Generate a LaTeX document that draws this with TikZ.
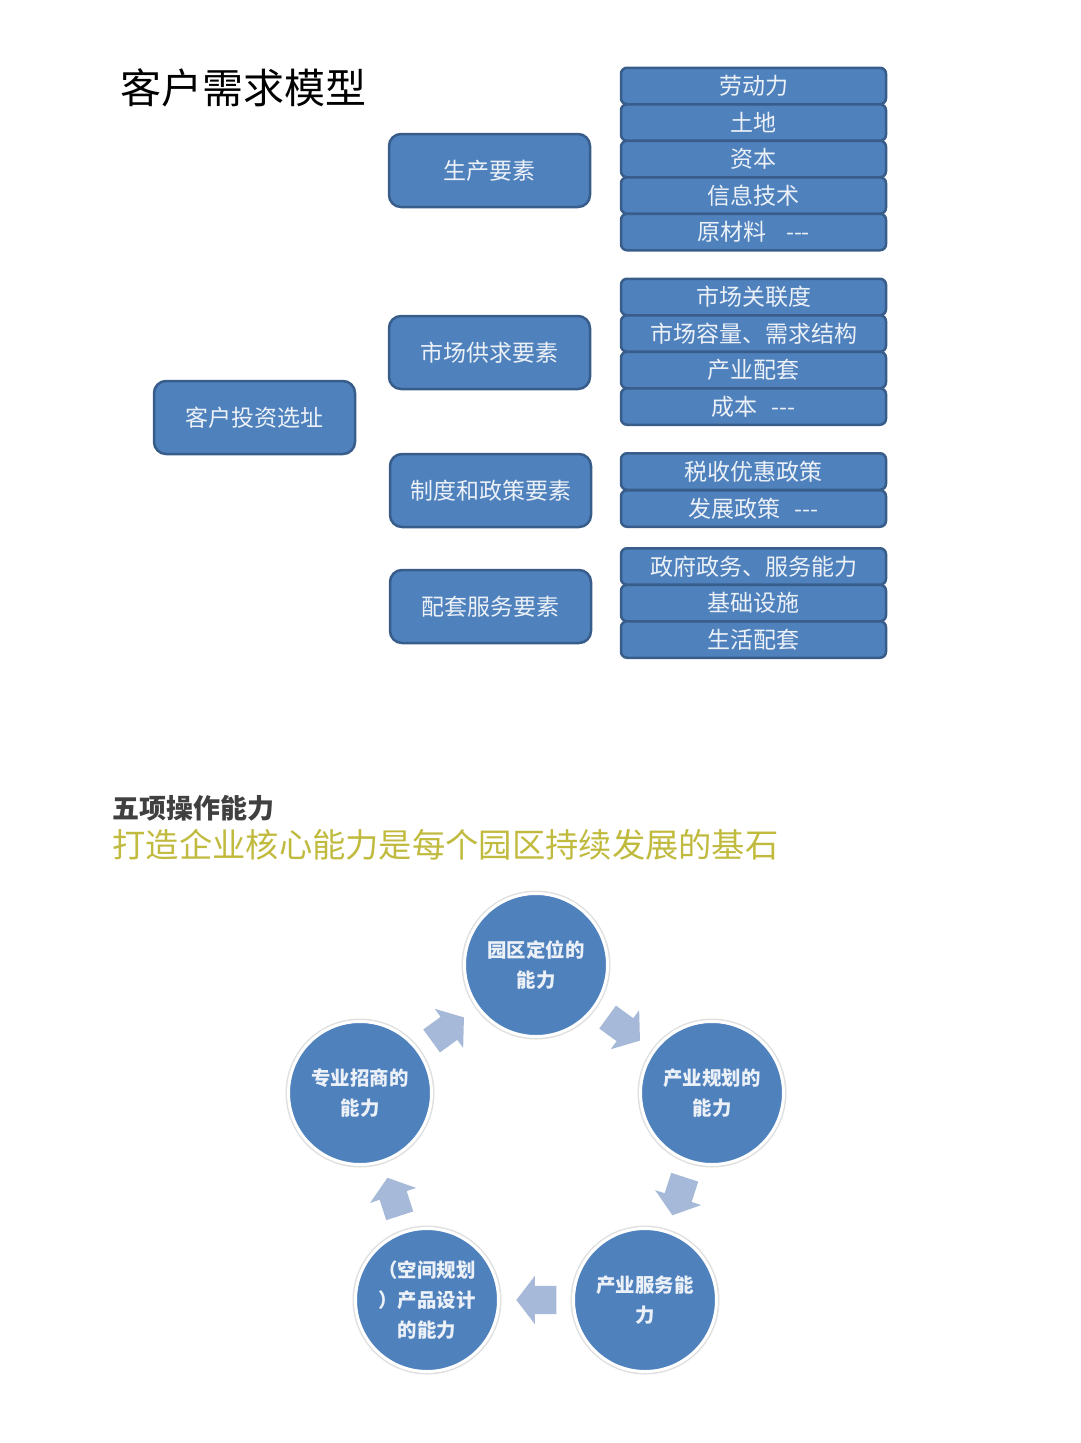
\documentclass[tikz,border=0pt]{standalone}
\usepackage{fontspec}
\setmainfont{Noto Sans CJK SC}
\usepackage{xcolor}
\usetikzlibrary{shapes.arrows}
\definecolor{bx}{RGB}{79, 129, 189}
\definecolor{bxline}{RGB}{56, 93, 138}
\definecolor{bxtext}{RGB}{236, 241, 248}
\definecolor{flw}{RGB}{167, 185, 216}
\definecolor{ol}{RGB}{192, 186, 62}
\definecolor{gy}{RGB}{64, 64, 64}

\begin{document}
\begin{tikzpicture}[x=1pt, y=-1pt,
    factor/.style={rectangle, rounded corners=12pt, draw=bxline, line width=2.5pt, fill=bx,
        text=bxtext, minimum width=201pt, minimum height=73pt, font=\fontsize{23}{26}\selectfont},
    item/.style={rectangle, rounded corners=6pt, draw=bxline, line width=2.5pt, fill=bx,
        text=bxtext, minimum width=265pt, minimum height=36.5pt, inner sep=0pt, font=\fontsize{23}{26}\selectfont},
    ability/.style={circle, draw=white, line width=3pt, fill=bx, minimum size=143pt, inner sep=0pt,
        preaction={draw=black!12, line width=6pt},
        text=bxtext, align=center, text width=110pt, font=\bfseries\fontsize{19.4}{30}\selectfont},
    flow/.style={single arrow, fill=flw, inner sep=14pt, single arrow head extend=10pt,
        single arrow tip angle=105, minimum height=40pt}]
    \useasboundingbox (0,0) rectangle (1080,1443);
    % top part
    \node[anchor=west, font=\fontsize{41}{44}\selectfont] (title) at (117,88) {客户需求模型};
    \node[factor] (invest) at (254.5,417.5) {客户投资选址};
    \node[factor] (prod) at (489.5,170.5) {生产要素};
    \node[factor] (market) at (489.5,352.5) {市场供求要素};
    \node[factor] (policy) at (490.5,490.5) {制度和政策要素};
    \node[factor] (service) at (490.5,606.5) {配套服务要素};
    % production
    \node[item] (p1) at (753.5,86) {劳动力};
    \node[item] (p2) at (753.5,122.5) {土地};
    \node[item] (p3) at (753.5,159) {资本};
    \node[item] (p4) at (753.5,195.5) {信息技术};
    \node[item] (p5) at (753.5,232) {原材料\hspace{20pt}-{}-{}-};
    % market
    \node[item] (m1) at (753.5,297) {市场关联度};
    \node[item] (m2) at (753.5,333.5) {市场容量、需求结构};
    \node[item] (m3) at (753.5,370) {产业配套};
    \node[item] (m4) at (753.5,406.5) {成本\hspace{14pt}-{}-{}-};
    % policy
    \node[item] (z1) at (753.5,471.5) {税收优惠政策};
    \node[item] (z2) at (753.5,508.5) {发展政策\hspace{14pt}-{}-{}-};
    % service
    \node[item] (s1) at (753.5,566.5) {政府政务、服务能力};
    \node[item] (s2) at (753.5,603) {基础设施};
    \node[item] (s3) at (753.5,639.5) {生活配套};
    % bottom part
    \node[anchor=west, text=gy, font=\bfseries\fontsize{27}{30}\selectfont] (sub) at (109,808) {五项操作能力};
    \node[anchor=west, text=ol, font=\fontsize{33.3}{36}\selectfont] (motto) at (109,845) {打造企业核心能力是每个园区持续发展的基石};
    \node[ability] (locate) at (536,965) {园区定位的\\能力};
    \node[ability] (plan) at (712,1093) {产业规划的\\能力};
    \node[ability] (serve) at (645,1300) {产业服务能\\力};
    \node[ability] (space) at (427,1300) {（空间规划\\）产品设计\\的能力};
    \node[ability] (attract) at (360,1093) {专业招商的\\能力};
    \path (attract) -- (locate) node[pos=0.42, sloped, allow upside down, flow] (f1) {};
    \path (locate) -- (plan) node[pos=0.42, sloped, allow upside down, flow] (f2) {};
    \path (plan) -- (serve) node[pos=0.42, sloped, allow upside down, flow] (f3) {};
    \path (serve) -- (space) node[pos=0.42, sloped, allow upside down, flow] (f4) {};
    \path (space) -- (attract) node[pos=0.42, sloped, allow upside down, flow] (f5) {};
\end{tikzpicture}
\end{document}
